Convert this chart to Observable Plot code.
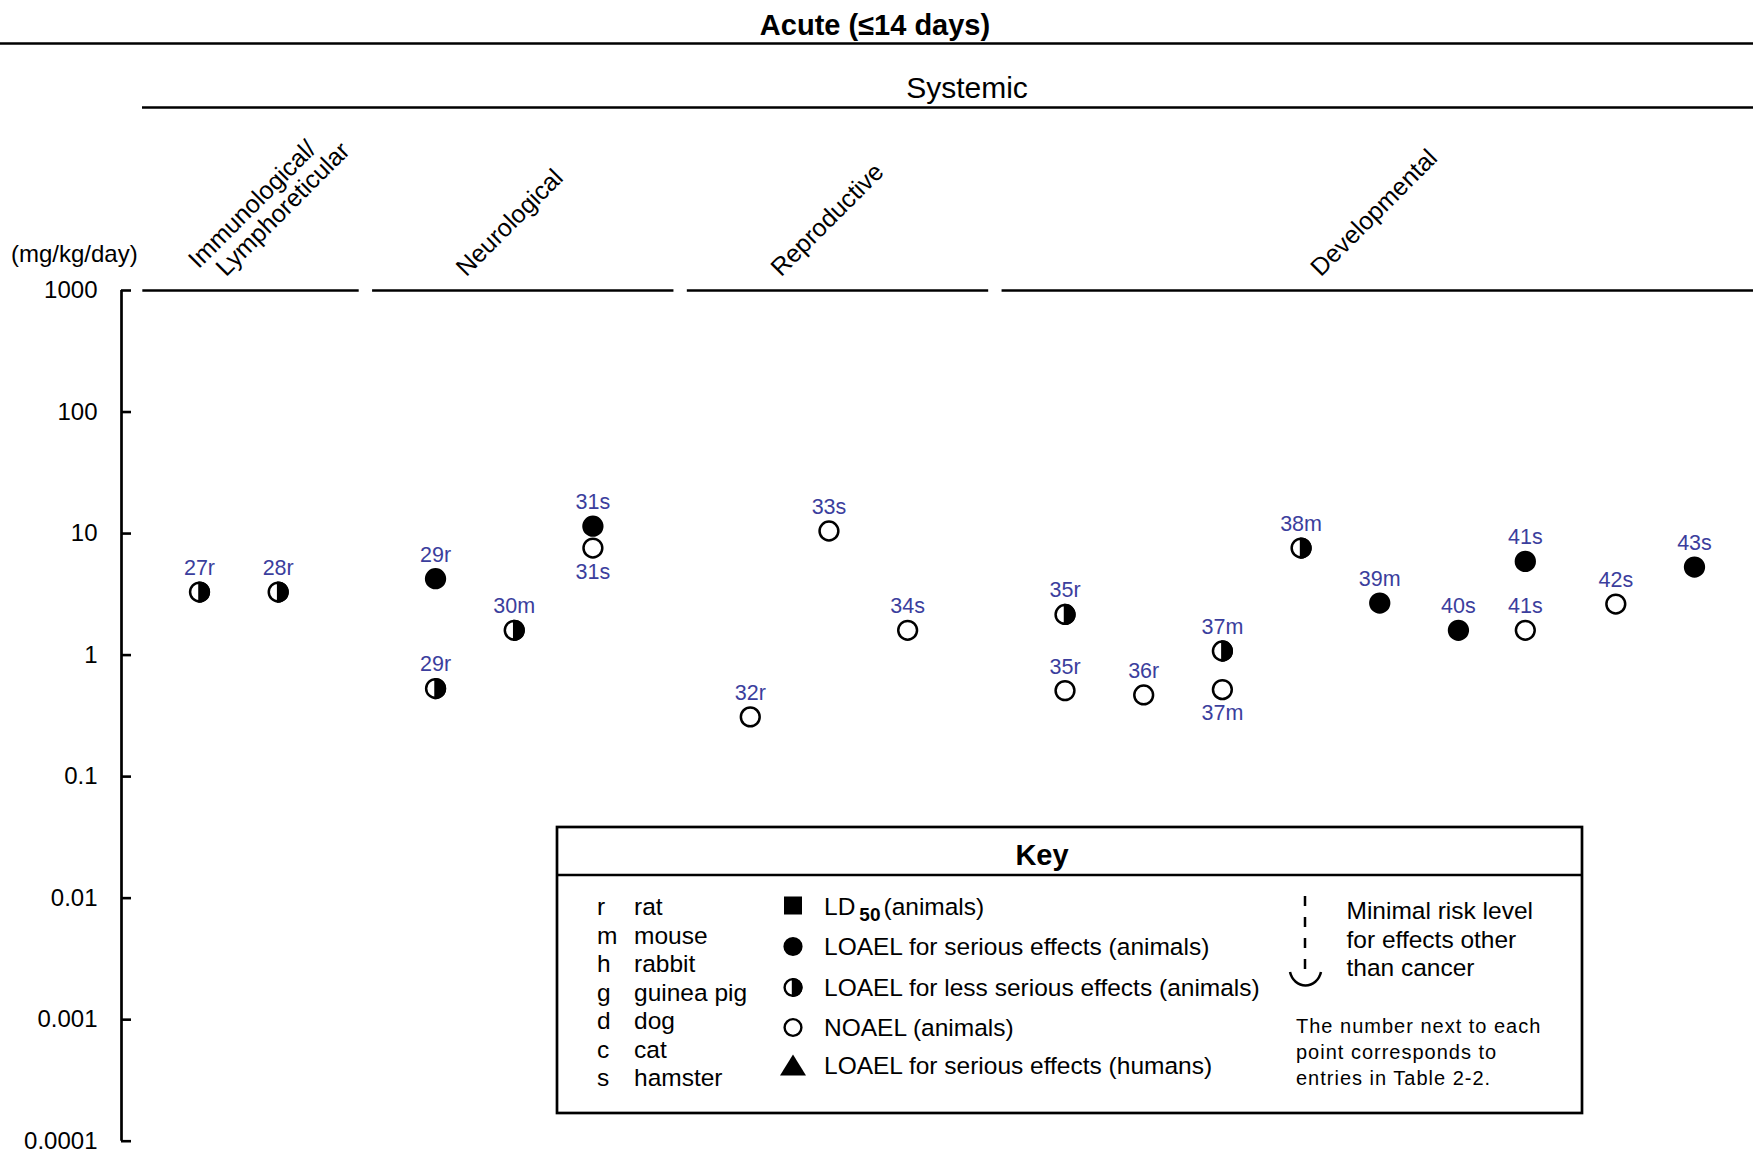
<!DOCTYPE html>
<html>
<head>
<meta charset="utf-8">
<script src="https://cdn.jsdelivr.net/npm/d3@7"></script>
<script src="https://cdn.jsdelivr.net/npm/@observablehq/plot@0.6"></script>
<style>
  html, body { margin: 0; padding: 0; background: #fff; overflow: hidden; }
  #chart { width: 1753px; height: 1151px; }
</style>
</head>
<body>
<div id="chart"></div>
<script>
// ---------- data ----------
const categories = ["Immunological/\nLymphoreticular", "Neurological", "Reproductive", "Developmental"];
const categoryFirstColumn = [0, 3, 7, 11];
const categoryLastColumn = [1, 5, 9, 19];

const pointColumn = [0, 1, 3, 3, 4, 5, 5, 7, 8, 9, 11, 11, 12, 13, 13, 14, 15, 16, 16.85, 16.85, 18, 19];
const pointLabel  = ["27r","28r","29r","29r","30m","31s","31s","32r","33s","34s","35r","35r","36r","37m","37m","38m","39m","40s","41s","41s","42s","43s"];
const pointDose   = [3.3, 3.3, 4.25, 0.53, 1.6, 11.5, 7.6, 0.31, 10.5, 1.6, 2.16, 0.51, 0.47, 1.08, 0.52, 7.6, 2.68, 1.6, 5.9, 1.6, 2.63, 5.3];
const pointEffect = ["less","less","serious","less","less","serious","noael","noael","noael","noael","less","noael","noael","less","noael","less","serious","serious","serious","noael","noael","serious"];
const labelBelow  = [false,false,false,false,false,false,true,false,false,false,false,false,false,false,true,false,false,false,false,false,false,false];

const yTicks = [1000, 100, 10, 1, 0.1, 0.01, 0.001, 0.0001];
const yTickLabels = ["1000", "100", "10", "1", "0.1", "0.01", "0.001", "0.0001"];

const speciesCodes = ["r", "m", "h", "g", "d", "c", "s"];
const speciesNames = ["rat", "mouse", "rabbit", "guinea pig", "dog", "cat", "hamster"];
const keySymbols = ["square", "serious", "less", "noael", "triangle"];
const keyTexts = ["LD50 (animals)", "LOAEL for serious effects (animals)", "LOAEL for less serious effects (animals)", "NOAEL (animals)", "LOAEL for serious effects (humans)"];
const mrlText = ["Minimal risk level", "for effects other", "than cancer"];
const noteText = ["The number next to each", "point corresponds to", "entries in Table 2-2."];

const titleText = "Acute (\u226414 days)";
const subtitleText = "Systemic";
const unitText = "(mg/kg/day)";

// ---------- setup ----------
const FONT = "'Liberation Sans', Arial, Helvetica, sans-serif";
const LABEL_BLUE = "#3b3e9d";
const xMin = -0.991, xMax = 19.75;

const points = pointLabel.map((label, i) => ({
  column: pointColumn[i], dose: pointDose[i], label, effect: pointEffect[i], below: labelBelow[i]
}));
const groups = categories.map((name, i) => {
  const start = categoryFirstColumn[i] - (i === 0 ? 0.72 : 0.8);
  const end = categoryLastColumn[i] + 1.03;
  return {name, start, end, center: (start + Math.min(end, xMax)) / 2, multi: name.includes("\n")};
});

const rightHalf = {
  draw(context, size) {
    const r = Math.sqrt(size / Math.PI);
    context.moveTo(0, -r);
    context.arc(0, 0, r, -Math.PI / 2, Math.PI / 2);
    context.closePath();
  }
};

function decorations() {
  const g = d3.create("svg:g").attr("font-family", FONT).attr("fill", "black").attr("text-anchor", "start");
  const text = (str, x, y, size, o = {}) => {
    const t = g.append("text").attr("x", x).attr("y", y).attr("font-size", size)
      .attr("text-anchor", o.anchor || "start").text(str);
    if (o.weight) t.attr("font-weight", o.weight);
    if (o.spacing) t.attr("letter-spacing", o.spacing);
    return t;
  };
  const line = (x1, y1, x2, y2, w) =>
    g.append("line").attr("x1", x1).attr("y1", y1).attr("x2", x2).attr("y2", y2)
      .attr("stroke", "black").attr("stroke-width", w);

  // header
  text(titleText, 875, 34.5, 29, {anchor: "middle", weight: "bold"});
  line(0, 43.5, 1753, 43.5, 2.7);
  text(subtitleText, 967, 98, 30, {anchor: "middle"});
  line(142, 107.5, 1753, 107.5, 2.7);
  text(unitText, 11, 261.5, 24);

  // key box
  g.append("rect").attr("x", 557).attr("y", 827).attr("width", 1025).attr("height", 286)
    .attr("fill", "white").attr("stroke", "black").attr("stroke-width", 2.7);
  line(557, 875, 1582, 875, 2.5);
  text("Key", 1042, 865, 29, {anchor: "middle", weight: "bold"});

  speciesCodes.forEach((c, i) => {
    text(c, 597, 915 + 28.5 * i, 24.5);
    text(speciesNames[i], 634, 915 + 28.5 * i, 24.5);
  });

  const baselines = [915, 955, 996, 1036, 1074];
  const kr = 8.4;
  keySymbols.forEach((s, i) => {
    const cx = 793, cy = baselines[i] - 8.5;
    if (s === "square") {
      g.append("rect").attr("x", cx - 9).attr("y", cy - 10).attr("width", 18).attr("height", 18).attr("fill", "black");
    } else if (s === "triangle") {
      g.append("path").attr("d", `M${cx - 13},${cy + 10}L${cx + 13},${cy + 10}L${cx},${cy - 11}Z`).attr("fill", "black");
    } else {
      g.append("circle").attr("cx", cx).attr("cy", cy).attr("r", kr)
        .attr("fill", s === "serious" ? "black" : "white").attr("stroke", "black").attr("stroke-width", 2.4);
      if (s === "less") {
        g.append("path").attr("d", `M${cx},${cy - kr}A${kr},${kr} 0 0 1 ${cx},${cy + kr}Z`)
          .attr("fill", "black").attr("stroke", "black").attr("stroke-width", 2.4);
      }
    }
    if (i === 0) {
      const t = g.append("text").attr("x", 824).attr("y", baselines[i]).attr("font-size", 24.5).attr("text-anchor", "start");
      t.append("tspan").text("LD");
      t.append("tspan").attr("font-size", 19).attr("font-weight", "bold").attr("dy", 6).attr("dx", 4).text("50");
      t.append("tspan").attr("dy", -6).attr("dx", 3).text("(animals)");
    } else {
      text(keyTexts[i], 824, baselines[i], 24.5);
    }
  });

  // minimal risk level symbol
  g.append("line").attr("x1", 1305).attr("y1", 896).attr("x2", 1305).attr("y2", 970)
    .attr("stroke", "black").attr("stroke-width", 2.5).attr("stroke-dasharray", "10,11");
  g.append("path").attr("d", "M1290,972A16,18 0 0 0 1321,972").attr("fill", "none")
    .attr("stroke", "black").attr("stroke-width", 2.5);
  mrlText.forEach((s, i) => text(s, 1346.5, 919 + 28.5 * i, 24.5));
  noteText.forEach((s, i) => text(s, 1296, 1033 + 26 * i, 20, {spacing: 1}));

  return g.node();
}

const chart = Plot.plot({
  width: 1753,
  height: 1151,
  marginTop: 290,
  marginBottom: 10.3,
  marginLeft: 121,
  marginRight: 0,
  style: {fontFamily: FONT, background: "white", overflow: "visible", color: "black"},
  x: {type: "linear", domain: [xMin, xMax], axis: null},
  y: {type: "log", domain: [0.0001, 1000], axis: null},
  marks: [
    decorations,
    // y axis line and inward ticks
    Plot.ruleX([xMin], {y1: 0.0001, y2: 1000, stroke: "black", strokeWidth: 2.7}),
    Plot.ruleY(yTicks, {y: d => d, x1: xMin, x2: xMin + 10 / 78.68, stroke: "black", strokeWidth: 2.6}),
    Plot.axisY(yTicks, {
      anchor: "left", tickSize: 0, tickPadding: 24, fontSize: 24, label: null,
      tickFormat: d => yTickLabels[yTicks.indexOf(d)]
    }),
    // category separators along the top
    Plot.ruleY(groups, {y: () => 1000, x1: "start", x2: "end", stroke: "black", strokeWidth: 2.3}),
    Plot.text(groups.filter(d => !d.multi), {
      x: "center", text: "name", frameAnchor: "top", textAnchor: "start", lineAnchor: "bottom",
      rotate: -45, dx: -57, dy: -13, fontSize: 25, fill: "black"
    }),
    Plot.text(groups.filter(d => d.multi), {
      x: "center", text: d => d.name.replace("\n", "\n\u00a0\u00a0"), frameAnchor: "top",
      textAnchor: "start", lineAnchor: "top", rotate: -45, dx: -65, dy: -33.5, fontSize: 25, fill: "black"
    }),
    // points
    Plot.dot(points, {
      x: "column", y: "dose", r: 9.4,
      fill: d => d.effect === "serious" ? "black" : "white",
      stroke: "black", strokeWidth: 2.5
    }),
    Plot.dot(points.filter(d => d.effect === "less"), {
      x: "column", y: "dose", r: 9.4, symbol: rightHalf, fill: "black", stroke: "black", strokeWidth: 2.5
    }),
    Plot.text(points.filter(d => !d.below), {
      x: "column", y: "dose", text: "label", dy: -24, fontSize: 21.5, fill: LABEL_BLUE
    }),
    Plot.text(points.filter(d => d.below), {
      x: "column", y: "dose", text: "label", dy: 24, fontSize: 21.5, fill: LABEL_BLUE
    })
  ]
});

document.getElementById("chart").appendChild(chart);
</script>
</body>
</html>
